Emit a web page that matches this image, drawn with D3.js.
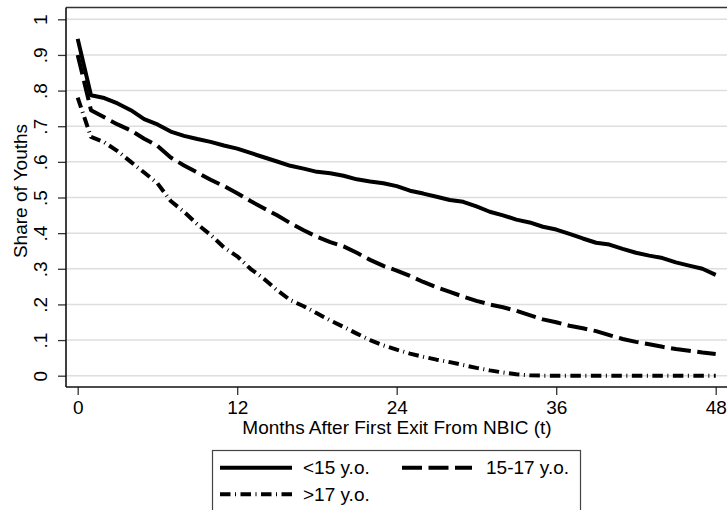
<!DOCTYPE html>
<html>
<head>
<meta charset="utf-8">
<script src="https://cdn.jsdelivr.net/npm/d3@7"></script>
<style>
  html, body { margin: 0; padding: 0; background: #fff; }
  svg { display: block; }
  text { font-family: "Liberation Sans", Arial, sans-serif; fill: #000; }
</style>
</head>
<body>
<svg id="chart" width="727" height="510"></svg>
<script>
// Months since first exit (0..48)
const months = d3.range(0, 49);

// Share of youths still in care, by age group at first exit
const under15 = [
  0.945, 0.787, 0.779, 0.764, 0.745, 0.720, 0.705, 0.685, 0.673, 0.664,
  0.656, 0.646, 0.637, 0.625, 0.613, 0.601, 0.589, 0.581, 0.572, 0.568,
  0.561, 0.551, 0.545, 0.540, 0.532, 0.519, 0.511, 0.502, 0.493, 0.488,
  0.475, 0.460, 0.450, 0.438, 0.430, 0.418, 0.410, 0.398, 0.385, 0.373,
  0.368, 0.356, 0.345, 0.337, 0.330, 0.318, 0.309, 0.300, 0.283
];
const age15to17 = [
  0.900, 0.745, 0.725, 0.705, 0.688, 0.665, 0.645, 0.612, 0.590, 0.570,
  0.550, 0.532, 0.512, 0.490, 0.470, 0.450, 0.428, 0.408, 0.390, 0.375,
  0.363, 0.345, 0.325, 0.308, 0.295, 0.280, 0.263, 0.248, 0.235, 0.222,
  0.210, 0.200, 0.192, 0.182, 0.170, 0.158, 0.150, 0.140, 0.133, 0.125,
  0.114, 0.103, 0.095, 0.088, 0.081, 0.075, 0.070, 0.065, 0.061
];
const over17 = [
  0.780, 0.670, 0.655, 0.630, 0.600, 0.570, 0.540, 0.490, 0.460, 0.425,
  0.395, 0.360, 0.335, 0.300, 0.272, 0.240, 0.212, 0.195, 0.175, 0.155,
  0.137, 0.118, 0.100, 0.085, 0.073, 0.062, 0.053, 0.045, 0.038, 0.030,
  0.022, 0.015, 0.009, 0.004, 0.001, 0.000, 0.000, 0.000, 0.000, 0.000,
  0.000, 0.000, 0.000, 0.000, 0.000, 0.000, 0.000, 0.000, 0.000
];

const seriesNames = ["<15 y.o.", "15-17 y.o.", ">17 y.o."];
const xTicks = [0, 12, 24, 36, 48];
const yTicks = [0, 0.1, 0.2, 0.3, 0.4, 0.5, 0.6, 0.7, 0.8, 0.9, 1];
const yTickLabels = ["0", ".1", ".2", ".3", ".4", ".5", ".6", ".7", ".8", ".9", "1"];

const svg = d3.select("#chart");
const FONT = "19px";

// Plot region
const plot = { left: 66, top: 7.5, right: 727, bottom: 387 };
const x = d3.scaleLinear().domain([0, 48]).range([77.7, 715.7]);
const y = d3.scaleLinear().domain([0, 1]).range([375.7, 19.3]);

// Horizontal grid lines
svg.append("g")
  .selectAll("line")
  .data(yTicks)
  .join("line")
  .attr("x1", plot.left).attr("x2", plot.right)
  .attr("y1", d => y(d)).attr("y2", d => y(d))
  .attr("stroke", "#dedede")
  .attr("stroke-width", 1.5);

// Top border of the plot region
svg.append("line")
  .attr("x1", plot.left).attr("x2", plot.right)
  .attr("y1", plot.top).attr("y2", plot.top)
  .attr("stroke", "#333").attr("stroke-width", 1.4);

// Y axis
const yAxis = d3.axisLeft(y)
  .tickValues(yTicks)
  .tickSize(8)
  .tickPadding(0)
  .tickFormat((d, i) => yTickLabels[i]);
const gy = svg.append("g")
  .attr("transform", `translate(${plot.left},0)`)
  .call(yAxis);
gy.select(".domain").remove();
gy.append("line")
  .attr("x1", 0).attr("x2", 0)
  .attr("y1", plot.top).attr("y2", plot.bottom)
  .attr("stroke", "#111").attr("stroke-width", 1.6);
gy.selectAll(".tick line").attr("stroke", "#333").attr("stroke-width", 1.3);
gy.selectAll(".tick text")
  .attr("x", 0).attr("dy", null).attr("y", 0)
  .attr("text-anchor", "middle")
  .attr("transform", "translate(-19.5,0) rotate(-90)")
  .style("font-size", FONT)
  .style("font-family", "'Liberation Sans', Arial, sans-serif")
  .attr("fill", "#000");

// X axis
const xAxis = d3.axisBottom(x)
  .tickValues(xTicks)
  .tickSize(8)
  .tickPadding(6)
  .tickFormat(d3.format("d"));
const gx = svg.append("g")
  .attr("transform", `translate(0,${plot.bottom})`)
  .call(xAxis);
gx.select(".domain").remove();
gx.append("line")
  .attr("x1", plot.left).attr("x2", plot.right)
  .attr("y1", 0).attr("y2", 0)
  .attr("stroke", "#111").attr("stroke-width", 1.6);
gx.selectAll(".tick line").attr("stroke", "#333").attr("stroke-width", 1.3);
gx.selectAll(".tick text")
  .attr("dy", null).attr("y", 26.5)
  .style("font-size", FONT)
  .style("font-family", "'Liberation Sans', Arial, sans-serif")
  .attr("fill", "#000");

// Axis titles
svg.append("text")
  .attr("x", 397).attr("y", 433.5)
  .attr("text-anchor", "middle")
  .style("font-size", FONT)
  .text("Months After First Exit From NBIC (t)");

svg.append("text")
  .attr("transform", "translate(27,191) rotate(-90)")
  .attr("text-anchor", "middle")
  .style("font-size", FONT)
  .text("Share of Youths");

// Line styles per series
const styles = [
  { dash: null },
  { dash: "20,6.5" },
  { dash: "10.5,4.5,1,4.5" }
];
const allSeries = [under15, age15to17, over17];

const line = d3.line()
  .x((d, i) => x(months[i]))
  .y(d => y(d));

svg.append("g")
  .selectAll("path")
  .data(allSeries)
  .join("path")
  .attr("d", d => line(d))
  .attr("fill", "none")
  .attr("stroke", "#000")
  .attr("stroke-width", 4)
  .attr("stroke-linejoin", "round")
  .attr("stroke-dasharray", (d, i) => styles[i].dash);

// Legend
const legend = svg.append("g");
legend.append("rect")
  .attr("x", 212.5).attr("y", 450.5)
  .attr("width", 368).attr("height", 80)
  .attr("fill", "#fff")
  .attr("stroke", "#444").attr("stroke-width", 1.2);

const legendItems = [
  { lx1: 220, lx2: 292, ly: 467.7, tx: 303, ty: 474 },
  { lx1: 402, lx2: 472, ly: 467.7, tx: 486, ty: 474 },
  { lx1: 220, lx2: 292, ly: 494.3, tx: 303, ty: 500.5 }
];
legendItems.forEach((it, i) => {
  legend.append("line")
    .attr("x1", it.lx1).attr("x2", it.lx2)
    .attr("y1", it.ly).attr("y2", it.ly)
    .attr("stroke", "#000").attr("stroke-width", 4)
    .attr("stroke-dasharray", styles[i].dash);
  legend.append("text")
    .attr("x", it.tx).attr("y", it.ty)
    .style("font-size", FONT)
    .text(seriesNames[i]);
});
</script>
</body>
</html>
